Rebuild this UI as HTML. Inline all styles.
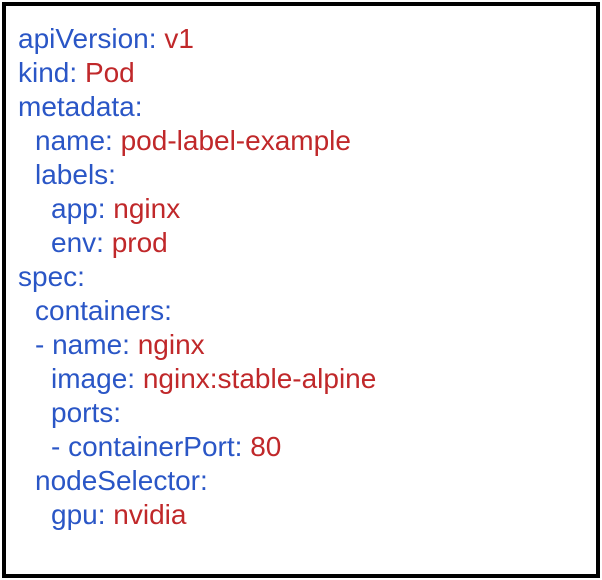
<!DOCTYPE html>
<html><head><meta charset="utf-8"><style>
html,body{margin:0;padding:0;background:#fff;width:602px;height:580px;overflow:hidden}
.box{position:absolute;left:2px;top:2px;width:590px;height:568px;border:4px solid #000;background:#fff}
.l{position:absolute;font-family:"Liberation Sans",Arial,sans-serif;font-size:28px;line-height:34px;white-space:pre;color:#2a56c6}
.r{color:#c0282a}
</style></head><body>
<div class="box"></div>
<div class="l" style="left:18px;top:22px">apiVersion: <span class="r">v1</span></div>
<div class="l" style="left:18px;top:56px">kind: <span class="r">Pod</span></div>
<div class="l" style="left:18px;top:90px">metadata:</div>
<div class="l" style="left:35px;top:124px">name: <span class="r">pod-label-example</span></div>
<div class="l" style="left:35px;top:158px">labels:</div>
<div class="l" style="left:51px;top:192px">app: <span class="r">nginx</span></div>
<div class="l" style="left:51px;top:226px">env: <span class="r">prod</span></div>
<div class="l" style="left:18px;top:260px">spec:</div>
<div class="l" style="left:35px;top:294px">containers:</div>
<div class="l" style="left:35px;top:328px">- name: <span class="r">nginx</span></div>
<div class="l" style="left:51px;top:362px">image: <span class="r">nginx:stable-alpine</span></div>
<div class="l" style="left:51px;top:396px">ports:</div>
<div class="l" style="left:51px;top:430px">- containerPort: <span class="r">80</span></div>
<div class="l" style="left:35px;top:464px">nodeSelector:</div>
<div class="l" style="left:51px;top:498px">gpu: <span class="r">nvidia</span></div>
</body></html>
